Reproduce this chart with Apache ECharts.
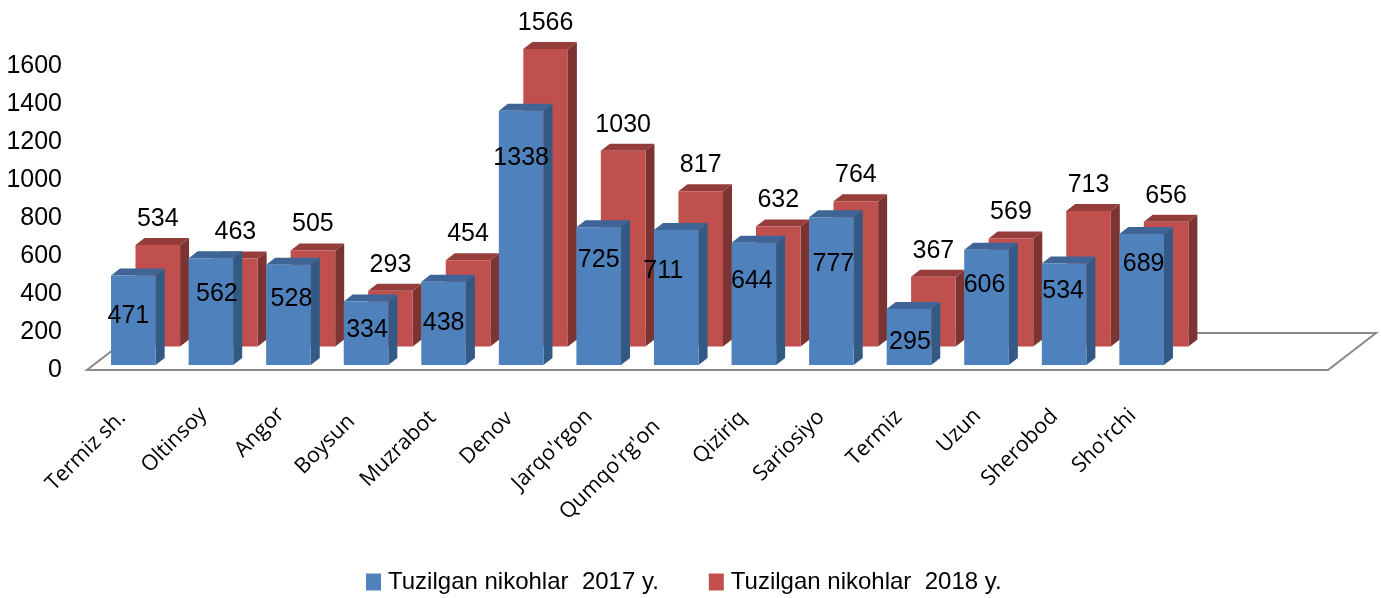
<!DOCTYPE html>
<html>
<head>
<meta charset="utf-8">
<style>
  html, body { margin: 0; padding: 0; background: #fff; }
  #chart { width: 1381px; height: 598px; }
</style>
<script src="https://cdn.jsdelivr.net/npm/echarts@6/dist/echarts.min.js"></script>
</head>
<body>
<div id="chart"></div>
<script>
const categories = ['Termiz sh.', 'Oltinsoy', 'Angor', 'Boysun', 'Muzrabot', 'Denov', "Jarqo'rgon", "Qumqo'rg'on", 'Qiziriq', 'Sariosiyo', 'Termiz', 'Uzun', 'Sherobod', "Sho'rchi"]
const values2017 = [471, 562, 528, 334, 438, 1338, 725, 711, 644, 777, 295, 606, 534, 689]
const values2018 = [534, 463, 505, 293, 454, 1566, 1030, 817, 632, 764, 367, 569, 713, 656]
const yTicks = { min: 0, max: 1600, interval: 200 }
const name2017 = 'Tuzilgan nikohlar  2017 y.'
const name2018 = 'Tuzilgan nikohlar  2018 y.'

// hand placed labels on the front series, as in the source: px nudge from the bar top centre
const label2017Dx = [-5, 6, 3, 1, 0, 0, 0, -13, -2, 2, 1, -2, -1, 2]
const label2017Dy = [41, 36, 34, 29, 41, 47, 33, 41, 38, 47, 33, 35, 28, 30]
// category labels are not lined up in the source, push some along their slant
const categoryLabelPad = [5, 0, 0, 10, 5, 6, 3, 17, 5, 4, 4, 2, 3, 2]

// the source floor has room for two more (empty) categories
const axisCategories = categories
  .map((name, i) => ({ value: name, textStyle: { padding: [0, categoryLabelPad[i], 0, 0] } }))
  .concat(['', ''])

const textFont = '"Liberation Sans", sans-serif'

// 3d look of the bars
const depthX = 9
const depthY = 7
const floorDepthX = 48
const floorDepthY = 37

function bar3d(faces, offsetX, baseShift, labelFn) {
  return (params, api) => {
    const i = api.value(0)
    const v = api.value(1)
    const band = api.size([1, 0])[0]
    const w = band * 0.575
    const x0 = api.coord([i, 0])[0] + offsetX * band
    const base = api.coord([i, 0])[1] - baseShift
    const top = api.coord([i, v])[1] - baseShift
    const x1 = x0 + w
    const children = [
      { type: 'polygon', shape: { points: [[x1, base], [x1 + depthX, base - depthY], [x1 + depthX, top - depthY], [x1, top]] }, style: { fill: faces.side } },
      { type: 'polygon', shape: { points: [[x0, top], [x1, top], [x1 + depthX, top - depthY], [x0 + depthX, top - depthY]] }, style: { fill: faces.top } },
      { type: 'rect', shape: { x: x0, y: top, width: w, height: base - top }, style: { fill: faces.front } }
    ]
    const pos = labelFn(params.dataIndex, x0 + w / 2, top)
    children.push({
      type: 'text',
      z2: 10,
      style: { text: String(v), x: pos[0], y: pos[1], align: 'center', verticalAlign: 'middle', fontSize: 25, fontFamily: textFont, fill: '#000' }
    })
    return { type: 'group', children }
  }
}

function renderFloor(params, api) {
  const left = api.coord([0, 0])
  const band = api.size([1, 0])[0]
  const x0 = left[0] - band / 2
  const x1 = x0 + band * axisCategories.length
  const y = left[1]
  return {
    type: 'polygon',
    shape: { points: [[x0, y], [x1, y], [x1 + floorDepthX, y - floorDepthY], [x0 + floorDepthX, y - floorDepthY]] },
    style: { fill: '#fff', stroke: '#898989', lineWidth: 2 }
  }
}

const chart = echarts.init(document.getElementById('chart'), null, { renderer: 'canvas' })

chart.setOption({
  animation: false,
  backgroundColor: '#fff',
  grid: { left: 87, top: 66, width: 1241, height: 304, outerBoundsMode: 'none' },
  legend: {
    left: 361,
    top: 565,
    itemWidth: 15,
    itemHeight: 17,
    itemGap: 50,
    icon: 'rect',
    data: [name2017, name2018],
    textStyle: { fontSize: 24, fontFamily: textFont, color: '#000', padding: [0, 0, 0, 2] }
  },
  xAxis: {
    type: 'category',
    data: axisCategories,
    axisLine: { show: false },
    axisTick: { show: false },
    axisLabel: { interval: 0, rotate: 45, margin: 41, fontSize: 21.5, fontFamily: '"Open Sans", sans-serif', color: '#000' }
  },
  yAxis: {
    type: 'value',
    min: yTicks.min,
    max: yTicks.max,
    interval: yTicks.interval,
    axisLine: { show: false },
    axisTick: { show: false },
    splitLine: { show: false },
    axisLabel: { margin: 25, padding: [4, 0, 0, 0], fontSize: 25, fontFamily: textFont, color: '#000', formatter: (v) => String(v) }
  },
  series: [
    {
      type: 'custom',
      silent: true,
      clip: false,
      z: 1,
      data: [[0, 0]],
      encode: { x: 0, y: 1 },
      renderItem: renderFloor
    },
    {
      name: name2018,
      type: 'custom',
      clip: false,
      z: 2,
      itemStyle: { color: '#C0504D' },
      data: values2018.map((v, i) => [i, v]),
      encode: { x: 0, y: 1 },
      renderItem: bar3d({ front: '#C0504D', side: '#7B3431', top: '#953D3A' }, 0.125, 23.5, (i, cx, top) => [cx, top - 26])
    },
    {
      name: name2017,
      type: 'custom',
      clip: false,
      z: 3,
      itemStyle: { color: '#4F81BD' },
      data: values2017.map((v, i) => [i, v]),
      encode: { x: 0, y: 1 },
      renderItem: bar3d({ front: '#4F81BD', side: '#335A85', top: '#3E6596' }, -0.19, 5, (i, cx, top) => [cx + label2017Dx[i], top + label2017Dy[i]])
    }
  ]
})
</script>
</body>
</html>
